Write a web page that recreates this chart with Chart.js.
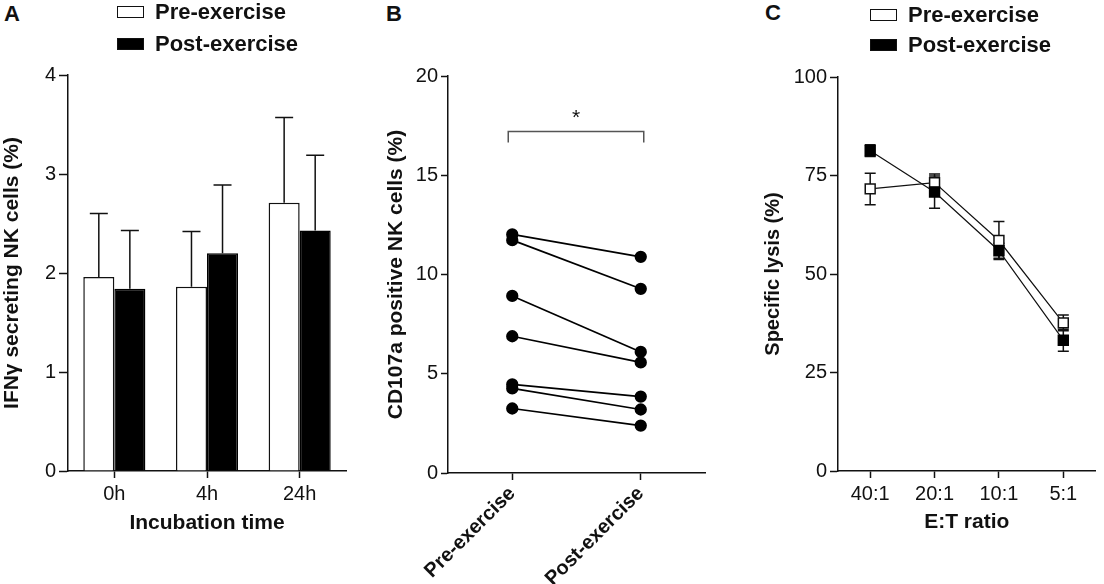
<!DOCTYPE html>
<html>
<head>
<meta charset="utf-8">
<script src="https://cdn.jsdelivr.net/npm/chart.js@4.4.1/dist/chart.umd.min.js"></script>
<style>
  body { margin: 0; width: 1104px; height: 584px; overflow: hidden; position: relative; background: #fff;
         font-family: "Liberation Sans", Arial, sans-serif; color: #111; }
  .panel { position: absolute; top: 0; height: 584px; }
  .letter { position: absolute; font-weight: bold; font-size: 22px; line-height: 22px; }
  .legend-row { position: absolute; height: 28px; display: flex; align-items: center;
                font-weight: bold; font-size: 22px; white-space: nowrap; }
  .swatch { width: 27px; height: 12px; box-sizing: border-box; border: 1.5px solid #111; margin-right: 11px; }
</style>
</head>
<body>
<div class="letter" style="left:4px;top:3px">A</div>
<div class="letter" style="left:386px;top:3px">B</div>
<div class="letter" style="left:765px;top:2px">C</div>

<div class="panel" style="left:0;width:360px"><canvas id="panelA"></canvas></div>
<div class="panel" style="left:365px;width:355px"><canvas id="panelB"></canvas></div>
<div class="panel" style="left:735px;width:369px"><canvas id="panelC"></canvas></div>

<script>
// series names shared by the three panels
var seriesNames = ["Pre-exercise", "Post-exercise"];

// A: IFN-gamma secreting NK cells (%), mean + SD
var incubationTimes = ["0h", "4h", "24h"];
var ifnPre = [1.96, 1.86, 2.71];
var ifnPreSd = [0.64, 0.56, 0.86];
var ifnPost = [1.84, 2.20, 2.43];
var ifnPostSd = [0.59, 0.69, 0.76];
var ticksA = [0, 1, 2, 3, 4];

// B: CD107a positive NK cells (%), one pair per subject
var timepoints = ["Pre-exercise", "Post-exercise"];
var cd107aPre = [12.02, 11.73, 8.92, 6.89, 4.46, 4.26, 3.25];
var cd107aPost = [10.89, 9.28, 6.10, 5.57, 3.85, 3.20, 2.39];
var ticksB = [0, 5, 10, 15, 20];
var bracketB = 17.2;   // height of the significance bracket
var bracketDrop = 0.55;
var starB = 18.1;

// C: specific lysis (%), mean +/- SEM
var etRatios = ["40:1", "20:1", "10:1", "5:1"];
var lysisPre = [71.6, 73.2, 58.5, 37.6];
var lysisPreSem = [4.0, 2.2, 4.8, 2.0];
var lysisPost = [81.3, 70.8, 55.9, 33.2];
var lysisPostSem = [1.5, 4.1, 1.9, 2.8];
var ticksC = [0, 25, 50, 75, 100];

var ink = "#111";
var tickFont = { family: "Liberation Sans", size: 20 };
var titleFont = { family: "Liberation Sans", size: 21, weight: "bold" };

Chart.defaults.animation = false;
Chart.defaults.events = [];
Chart.defaults.maintainAspectRatio = false;
Chart.defaults.plugins.legend.display = false;
Chart.defaults.plugins.tooltip.enabled = false;

function yAxis(ticks, title, width, titlePad, tickLen, font) {
    return {
        min: ticks[0],
        max: ticks[ticks.length - 1],
        ticks: { stepSize: ticks[1] - ticks[0], color: ink, font: tickFont, padding: 3 },
        grid: { drawOnChartArea: false, tickLength: tickLen, tickColor: ink, tickWidth: 1.5 },
        border: { color: ink, width: 1.5 },
        title: { display: true, text: title, color: ink, font: font || titleFont, padding: { top: titlePad, bottom: 0 } },
        afterFit: function (s) { s.width = width; }
    };
}

function xAxis(title, height, titlePad) {
    return {
        offset: true,
        ticks: { color: ink, font: tickFont, padding: 4, autoSkip: false, maxRotation: 0 },
        grid: { offset: false, drawOnChartArea: false, tickLength: 7, tickColor: ink, tickWidth: 1.5 },
        border: { color: ink, width: 1.5 },
        title: { display: !!title, text: title, color: ink, font: titleFont, padding: { top: 0, bottom: titlePad } },
        afterFit: function (s) { s.height = height; }
    };
}

// error bars read from dataset.errors, drawn through the y scale
function drawErrors(chart) {
    var ctx = chart.ctx, y = chart.scales.y;
    chart.data.datasets.forEach(function (ds, i) {
        if (!ds.errors) return;
        chart.getDatasetMeta(i).data.forEach(function (el, j) {
            var v = ds.data[j], e = ds.errors[j], cap = ds.capWidth;
            var top = y.getPixelForValue(v + e);
            var bottom = y.getPixelForValue(ds.errorBoth ? v - e : v);
            ctx.save();
            ctx.strokeStyle = ink;
            ctx.lineWidth = 1.5;
            ctx.beginPath();
            ctx.moveTo(el.x, top);
            ctx.lineTo(el.x, bottom);
            ctx.moveTo(el.x - cap, top);
            ctx.lineTo(el.x + cap, top);
            if (ds.errorBoth) {
                ctx.moveTo(el.x - cap, bottom);
                ctx.lineTo(el.x + cap, bottom);
            }
            ctx.stroke();
            ctx.restore();
        });
    });
}

var errorBars = {
    id: "errorBars",
    beforeDatasetsDraw: function (chart, args, opts) { if (opts.under) drawErrors(chart); },
    afterDatasetsDraw: function (chart, args, opts) { if (!opts.under) drawErrors(chart); }
};

// bracket with star between the two timepoints of panel B
var sigBracket = {
    id: "sigBracket",
    afterDatasetsDraw: function (chart) {
        var ctx = chart.ctx, x = chart.scales.x, y = chart.scales.y;
        var x0 = x.getPixelForValue(0) - 4, x1 = x.getPixelForValue(1) + 3;
        var yb = y.getPixelForValue(bracketB), yd = y.getPixelForValue(bracketB - bracketDrop);
        ctx.save();
        ctx.strokeStyle = "#555";
        ctx.lineWidth = 1.5;
        ctx.beginPath();
        ctx.moveTo(x0, yd);
        ctx.lineTo(x0, yb);
        ctx.lineTo(x1, yb);
        ctx.lineTo(x1, yd);
        ctx.stroke();
        ctx.fillStyle = ink;
        ctx.font = "21px 'Liberation Sans'";
        ctx.textAlign = "center";
        ctx.textBaseline = "middle";
        ctx.fillText("*", (x0 + x1) / 2, y.getPixelForValue(starB) + 4);
        ctx.restore();
    }
};

// panel A
new Chart(document.getElementById("panelA"), {
    type: "bar",
    data: {
        labels: incubationTimes,
        datasets: [
            { label: seriesNames[0], data: ifnPre, errors: ifnPreSd, capWidth: 9,
              backgroundColor: "#fff", borderColor: ink, borderWidth: 1.5 },
            { label: seriesNames[1], data: ifnPost, errors: ifnPostSd, capWidth: 9,
              backgroundColor: "#000", borderColor: "#000", borderWidth: 1.5 }
        ]
    },
    options: {
        layout: { padding: { left: 0, top: 75, right: 14, bottom: 0 } },
        datasets: { bar: { categoryPercentage: 0.67, barPercentage: 1.0 } },
        plugins: { errorBars: { under: false } },
        scales: {
            x: xAxis("Incubation time", 113, 48),
            y: yAxis(ticksA, "IFN\u03b3 secreting NK cells (%)", 68, 0, 9)
        }
    },
    plugins: [errorBars]
});

// panel B
var pairs = cd107aPre.map(function (v, i) {
    return { data: [v, cd107aPost[i]], borderColor: "#000", borderWidth: 1.7,
             pointRadius: 5.3, pointBackgroundColor: "#000", pointBorderColor: "#000" };
});
var xB = xAxis("", 111, 0);
xB.ticks = { color: ink, font: { family: "Liberation Sans", size: 20, weight: "bold" },
             padding: 2, autoSkip: false, minRotation: 45, maxRotation: 45 };
new Chart(document.getElementById("panelB"), {
    type: "line",
    data: { labels: timepoints, datasets: pairs },
    options: {
        layout: { padding: { left: 0, top: 76, right: 15, bottom: 0 } },
        scales: {
            x: xB,
            y: yAxis(ticksB, "CD107a positive NK cells (%)", 83, 19, 7)
        }
    },
    plugins: [sigBracket]
});

// panel C
new Chart(document.getElementById("panelC"), {
    type: "line",
    data: {
        labels: etRatios,
        datasets: [
            { label: seriesNames[0], data: lysisPre, errors: lysisPreSem, errorBoth: true, capWidth: 5.5, order: 2,
              borderColor: ink, borderWidth: 1.2, pointStyle: "rect", pointRadius: 7,
              pointBackgroundColor: "#fff", pointBorderColor: ink, pointBorderWidth: 1.5 },
            { label: seriesNames[1], data: lysisPost, errors: lysisPostSem, errorBoth: true, capWidth: 5.5, order: 1,
              borderColor: ink, borderWidth: 1.2, pointStyle: "rect", pointRadius: 7,
              pointBackgroundColor: "#000", pointBorderColor: "#000", pointBorderWidth: 1.5 }
        ]
    },
    options: {
        layout: { padding: { left: 0, top: 77, right: 4, bottom: 0 } },
        plugins: { errorBars: { under: true } },
        scales: {
            x: xAxis("E:T ratio", 113, 49),
            y: yAxis(ticksC, "Specific lysis (%)", 103, 26, 8, { family: "Liberation Sans", size: 20, weight: "bold" })
        }
    },
    plugins: [errorBars]
});

// HTML legends for A and C, built from the series names
function addLegend(left, centers) {
    seriesNames.forEach(function (name, i) {
        var row = document.createElement("div");
        row.className = "legend-row";
        row.style.left = left + "px";
        row.style.top = (centers[i] - 14) + "px";
        var sw = document.createElement("span");
        sw.className = "swatch";
        sw.style.background = i === 0 ? "#fff" : "#000";
        row.appendChild(sw);
        row.appendChild(document.createTextNode(name));
        document.body.appendChild(row);
    });
}
addLegend(117, [11.5, 44]);
addLegend(870, [15, 45]);
</script>
</body>
</html>
